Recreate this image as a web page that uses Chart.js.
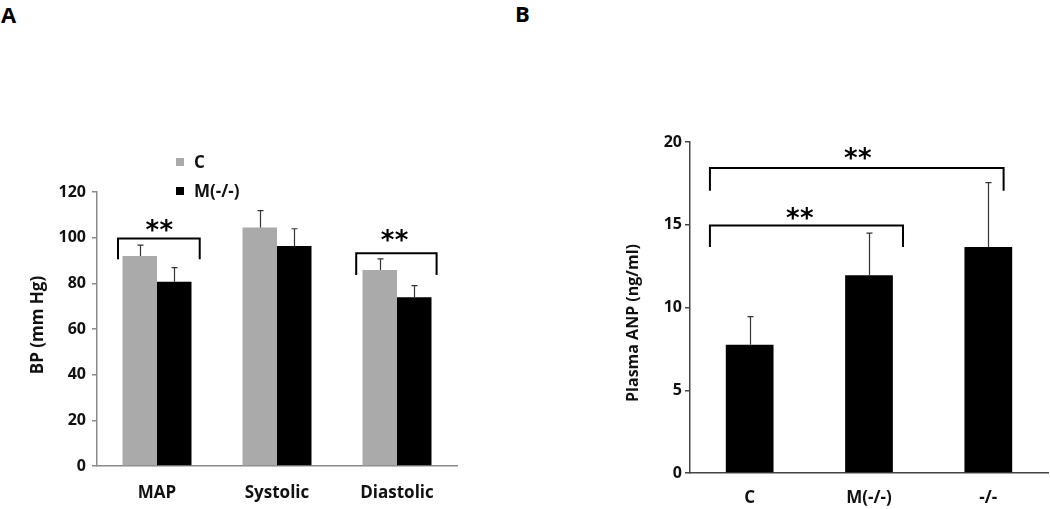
<!DOCTYPE html>
<html>
<head>
<meta charset="utf-8">
<script src="https://cdn.jsdelivr.net/npm/chart.js@4.4.1/dist/chart.umd.min.js"></script>
<style>
  html, body { margin: 0; padding: 0; background: #fff; }
  body { width: 1050px; height: 509px; position: relative; overflow: hidden; font-family: "Open Sans", sans-serif; }
  .panel-letter { position: absolute; font: bold 22px "Open Sans", sans-serif; color: #000; line-height: 1; }
  #wrapA { position: absolute; left: 0; top: 0; width: 500px; height: 509px; }
  #wrapB { position: absolute; left: 530px; top: 0; width: 520px; height: 509px; }
</style>
</head>
<body>
<div class="panel-letter" style="left:1px; top:3px;">A</div>
<div class="panel-letter" style="left:515px; top:2px;">B</div>
<div id="wrapA"><canvas id="chartA"></canvas></div>
<div id="wrapB"><canvas id="chartB"></canvas></div>

<script>
// ---- Panel A: blood pressure ----
const bpCategories = ['MAP', 'Systolic', 'Diastolic'];
const bpControl = [92, 104.5, 85.8];
const bpControlErr = [4.7, 7.3, 4.9];
const bpMutant = [80.7, 96.4, 73.9];
const bpMutantErr = [6.2, 7.5, 5.1];
const bpTicks = [0, 20, 40, 60, 80, 100, 120];

// ---- Panel B: plasma ANP ----
const anpCategories = ['C', 'M(-/-)', '-/-'];
const anpValues = [7.75, 11.95, 13.65];
const anpErr = [1.7, 2.55, 3.9];
const anpTicks = [0, 5, 10, 15, 20];

// significance brackets: [fromIndex, toIndex, barY, tickBottomY, starIndex, starY]
const bpBrackets = [
  [-0.325, 0.356, 99.6, 90.5, 0.02, 104.6],
  [1.66, 2.33, 93.2, 83.7, 1.98, 100.0],
];
const anpBrackets = [
  [-0.333, 2.128, 18.43, 17.06, 0.906, 19.2],
  [-0.333, 1.285, 14.96, 13.66, 0.42, 15.6],
];

const FONT = '"Open Sans", sans-serif';
const TEXT = '#111';

/* -----------------------------
   Extras plugin: error bars, brackets, legend, axis title
------------------------------ */
const extrasPlugin = {
  id: 'extras',
  afterDatasetsDraw(chart, args, opts) {
    const { ctx, chartArea } = chart;
    const xs = chart.scales.x;
    const ys = chart.scales.y;

    // error bars (upper only, with cap)
    ctx.save();
    ctx.strokeStyle = '#333';
    ctx.lineWidth = 1.2;
    chart.data.datasets.forEach((ds, di) => {
      const meta = chart.getDatasetMeta(di);
      meta.data.forEach((bar, i) => {
        const top = ys.getPixelForValue(ds.data[i] + ds.errors[i]);
        const x = Math.round(bar.x) + 0.5;
        ctx.beginPath();
        ctx.moveTo(x, bar.y);
        ctx.lineTo(x, top);
        ctx.moveTo(x - 3, top);
        ctx.lineTo(x + 3, top);
        ctx.stroke();
      });
    });
    ctx.restore();

    // significance brackets
    ctx.save();
    ctx.strokeStyle = '#000';
    ctx.lineWidth = 2;
    ctx.fillStyle = '#000';
    ctx.font = 'bold 26px "DejaVu Sans", sans-serif';
    ctx.textAlign = 'center';
    ctx.textBaseline = 'middle';
    (opts.brackets || []).forEach(([a, b, yv, yb, sx, sy]) => {
      const x1 = xs.getPixelForValue(a);
      const x2 = xs.getPixelForValue(b);
      const y = ys.getPixelForValue(yv);
      const yBottom = ys.getPixelForValue(yb);
      ctx.beginPath();
      ctx.moveTo(x1, yBottom);
      ctx.lineTo(x1, y);
      ctx.lineTo(x2, y);
      ctx.lineTo(x2, yBottom);
      ctx.stroke();
      const cx = xs.getPixelForValue(sx);
      const cy = ys.getPixelForValue(sy) + 5;
      ctx.fillText('*', cx - 7, cy);
      ctx.fillText('*', cx + 7, cy);
    });
    ctx.restore();

    // legend
    if (opts.legend) {
      ctx.save();
      ctx.font = `bold 17px ${FONT}`;
      ctx.textBaseline = 'middle';
      ctx.textAlign = 'left';
      chart.data.datasets.forEach((ds, di) => {
        const lx = chartArea.left + opts.legend.dx;
        const ly = chartArea.top + opts.legend.dy + di * opts.legend.gap;
        ctx.fillStyle = ds.backgroundColor;
        ctx.fillRect(lx, ly - 4, 8, 8);
        ctx.fillStyle = TEXT;
        ctx.fillText(ds.label, lx + 18, ly + 1);
      });
      ctx.restore();
    }

    // rotated y-axis title
    if (opts.yTitle) {
      ctx.save();
      ctx.font = `bold ${opts.yTitle.size}px ${FONT}`;
      ctx.fillStyle = TEXT;
      ctx.textAlign = 'center';
      ctx.textBaseline = 'middle';
      ctx.translate(opts.yTitle.x, opts.yTitle.y);
      ctx.rotate(-Math.PI / 2);
      ctx.fillText(opts.yTitle.text, 0, 0);
      ctx.restore();
    }
  },
};

function baseOptions({ padTop, padRight, yWidth, xHeight, yMax, yStep, ticks, axisColor, tickPad, xPad, extras }) {
  return {
    responsive: true,
    maintainAspectRatio: false,
    animation: false,
    layout: { padding: { top: padTop, right: padRight, left: 0, bottom: 0 } },
    plugins: { legend: { display: false }, tooltip: { enabled: false }, extras },
    scales: {
      x: {
        grid: { display: false, drawTicks: false },
        border: { display: true, color: axisColor, width: 1.5 },
        ticks: { color: TEXT, font: { family: FONT, weight: 'bold', size: 17 }, padding: xPad, maxRotation: 0 },
        afterFit: (scale) => { scale.height = xHeight; },
      },
      y: {
        min: 0,
        max: yMax,
        afterBuildTicks: (scale) => { scale.ticks = ticks.map((v) => ({ value: v })); },
        grid: { drawOnChartArea: false, drawTicks: true, tickLength: 5, color: axisColor, lineWidth: 1.5 },
        border: { display: true, color: axisColor, width: 1.5 },
        ticks: { stepSize: yStep, color: TEXT, font: { family: FONT, weight: 'bold', size: 16 }, padding: tickPad },
        afterFit: (scale) => { scale.width = yWidth; },
      },
    },
  };
}

new Chart(document.getElementById('chartA'), {
  type: 'bar',
  data: {
    labels: bpCategories,
    datasets: [
      { label: 'C', data: bpControl, errors: bpControlErr, backgroundColor: '#aaaaaa',
        barPercentage: 1, categoryPercentage: 0.575 },
      { label: 'M(-/-)', data: bpMutant, errors: bpMutantErr, backgroundColor: '#000000',
        barPercentage: 1, categoryPercentage: 0.575 },
    ],
  },
  options: baseOptions({
    padTop: 192, padRight: 43, yWidth: 97, xHeight: 43, yMax: 120, yStep: 20, ticks: bpTicks,
    axisColor: '#8a8a8a', tickPad: 6, xPad: 17,
    extras: {
      brackets: bpBrackets,
      legend: { dx: 79, dy: -30, gap: 29 },
      yTitle: { text: 'BP (mm Hg)', x: 38, y: 325, size: 17 },
    },
  }),
  plugins: [extrasPlugin],
});

new Chart(document.getElementById('chartB'), {
  type: 'bar',
  data: {
    labels: anpCategories,
    datasets: [
      { label: 'ANP', data: anpValues, errors: anpErr, backgroundColor: '#000000',
        barPercentage: 1, categoryPercentage: 0.40 },
    ],
  },
  options: baseOptions({
    padTop: 142, padRight: 2, yWidth: 160, xHeight: 36, yMax: 20, yStep: 5, ticks: anpTicks,
    axisColor: '#444444', tickPad: 3, xPad: 15,
    extras: {
      brackets: anpBrackets,
      yTitle: { text: 'Plasma ANP (ng/ml)', x: 103, y: 323, size: 16 },
    },
  }),
  plugins: [extrasPlugin],
});
</script>
</body>
</html>
